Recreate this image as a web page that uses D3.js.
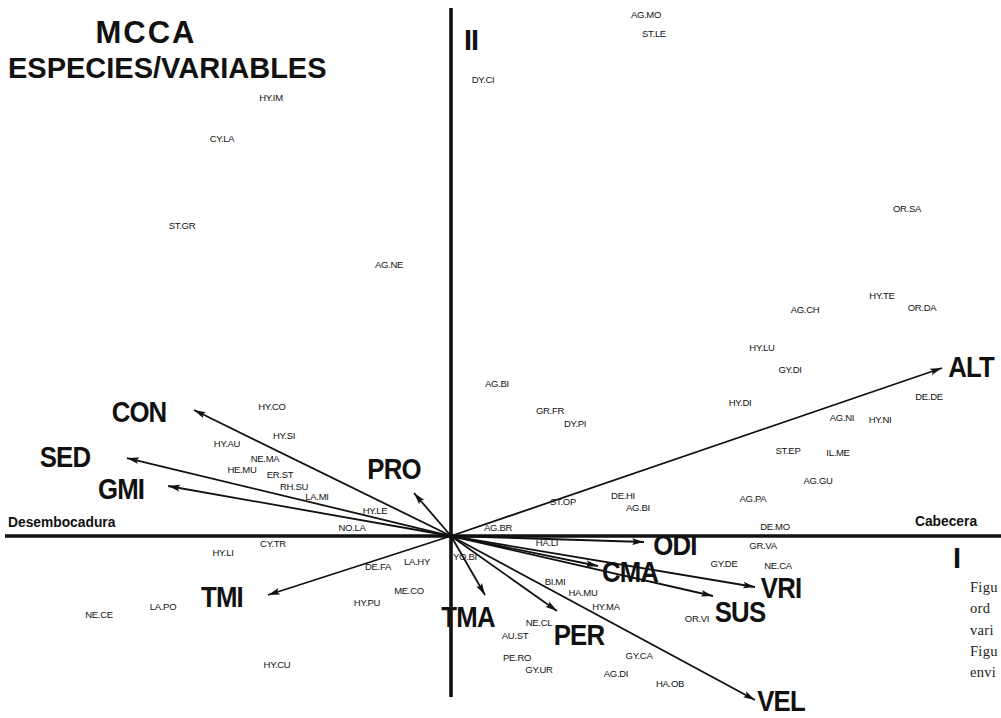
<!DOCTYPE html>
<html><head><meta charset="utf-8">
<script src="https://cdn.jsdelivr.net/npm/d3@7"></script>
<style>
html,body{margin:0;padding:0;background:#fff;overflow:hidden}
svg{display:block}
</style></head><body>
<svg id="c" width="1001" height="718"></svg>
<script>
// ---- data (ordination scores) ----
const speciesNames = ["HY.IM","CY.LA","ST.GR","AG.NE","AG.MO","ST.LE","DY.CI","OR.SA","HY.TE","OR.DA","AG.CH","HY.LU","GY.DI","DE.DE","AG.NI","HY.NI","HY.DI","AG.BI","GR.FR","DY.PI","ST.EP","IL.ME","AG.GU","AG.PA","ST.OP","DE.HI","AG.BI","AG.BR","DE.MO","GR.VA","HA.LI","YO.BI","GY.DE","NE.CA","BI.MI","HA.MU","HY.MA","NE.CL","AU.ST","PE.RO","GY.UR","AG.DI","GY.CA","HA.OB","OR.VI","HY.CO","HY.SI","HY.AU","NE.MA","HE.MU","ER.ST","RH.SU","LA.MI","HY.LE","NO.LA","CY.TR","HY.LI","DE.FA","LA.HY","ME.CO","HY.PU","LA.PO","NE.CE","HY.CU"];
const speciesX = [-1.80,-2.29,-2.69,-0.62,1.95,2.03,0.32,4.56,4.31,4.71,3.54,3.11,3.39,4.78,3.91,4.29,2.89,0.46,0.99,1.24,3.37,3.87,3.67,3.02,1.12,1.72,1.87,0.47,3.24,3.12,0.96,0.14,2.73,3.27,1.04,1.32,1.55,0.88,0.64,0.66,0.88,1.65,1.88,2.19,2.46,-1.79,-1.67,-2.24,-1.86,-2.09,-1.71,-1.57,-1.34,-0.76,-0.99,-1.78,-2.28,-0.73,-0.34,-0.42,-0.84,-2.88,-3.52,-1.74];
const speciesY = [4.38,3.97,3.10,2.71,5.21,5.02,4.56,3.27,2.40,2.28,2.26,1.88,1.66,1.39,1.18,1.16,1.33,1.52,1.25,1.12,0.85,0.83,0.55,0.37,0.34,0.40,0.28,0.08,0.09,-0.10,-0.07,-0.21,-0.28,-0.30,-0.46,-0.57,-0.71,-0.87,-1.00,-1.22,-1.34,-1.38,-1.20,-1.48,-0.83,1.29,1.00,0.92,0.77,0.66,0.61,0.49,0.39,0.25,0.08,-0.08,-0.17,-0.31,-0.26,-0.55,-0.67,-0.71,-0.79,-1.29];

const variableNames = ["ALT","CON","SED","GMI","PRO","TMI","TMA","PER","VEL","SUS","VRI","CMA","ODI"];
const variableX = [4.91,-2.57,-3.24,-2.83,-0.37,-1.83,0.34,1.06,3.04,2.62,3.04,1.47,1.93];
const variableY = [1.68,1.26,0.78,0.50,0.43,-0.59,-0.59,-0.75,-1.64,-0.60,-0.51,-0.30,-0.06];
const variableLabelX = [5.20,-3.12,-3.86,-3.30,-0.57,-2.29,0.17,1.28,3.30,2.89,3.30,1.79,2.24];
const variableLabelY = [1.70,1.25,0.80,0.48,0.68,-0.60,-0.80,-0.98,-1.64,-0.75,-0.51,-0.35,-0.08];

const axisEndLabels = ["Desembocadura","Cabecera"];
const axisNames = ["I","II"];
const titleLines = ["MCCA","ESPECIES/VARIABLES"];
const captionLines = ["Figu","ord","vari","Figu","envi"];
const axis1Extent = [-4.46, 5.52];
const axis2Extent = [-1.61, 5.28];

// ---- drawing ----
const W = 1001, H = 718;
const svg = d3.select("#c");
const x = d3.scaleLinear().domain([-4.51, 5.50]).range([0, W]);
const y = d3.scaleLinear().domain([-1.82, 5.36]).range([H, 0]);

svg.append("defs").append("marker")
  .attr("id","ah").attr("markerUnits","userSpaceOnUse")
  .attr("viewBox","0 0 12 8").attr("refX",12).attr("refY",4)
  .attr("markerWidth",12).attr("markerHeight",8).attr("orient","auto")
  .append("path").attr("d","M0,0.6 L12,4 L0,7.4 L2.5,4 Z").attr("fill","#111");

// axes
svg.append("line").attr("x1",x(axis1Extent[0])).attr("x2",x(axis1Extent[1]))
  .attr("y1",y(0)).attr("y2",y(0)).attr("stroke","#111").attr("stroke-width",3.6);
svg.append("line").attr("x1",x(0)).attr("x2",x(0))
  .attr("y1",y(axis2Extent[1])).attr("y2",y(axis2Extent[0])).attr("stroke","#111").attr("stroke-width",3.6);

// arrows
const vars = variableNames.map((n,i)=>({n, x:variableX[i], y:variableY[i], lx:variableLabelX[i], ly:variableLabelY[i]}));
svg.append("g").selectAll("line").data(vars).join("line")
  .attr("x1",x(0)).attr("y1",y(0))
  .attr("x2",d=>x(d.x)).attr("y2",d=>y(d.y))
  .attr("stroke","#111").attr("stroke-width",1.8)
  .attr("marker-end","url(#ah)");

// species labels
const sp = speciesNames.map((n,i)=>({n, x:speciesX[i], y:speciesY[i]}));
svg.append("g").selectAll("text").data(sp).join("text")
  .attr("x",d=>x(d.x)).attr("y",d=>y(d.y)).attr("dy","0.35em")
  .attr("text-anchor","middle")
  .style("font-family","'Liberation Sans', Arial, sans-serif")
  .style("font-size","9.5px").style("letter-spacing","-0.3px")
  .attr("fill","#111").text(d=>d.n);

// variable labels
svg.append("g").selectAll("text").data(vars).join("text")
  .attr("transform",d=>`translate(${x(d.lx)},${y(d.ly)}) scale(0.86,1)`)
  .attr("dy","0.36em").attr("text-anchor","middle")
  .style("font-family","'Liberation Sans', Arial, sans-serif")
  .style("font-weight","bold").style("font-size","30px").style("letter-spacing","-1px")
  .attr("fill","#111").text(d=>d.n);

// axis end labels
const smallBold = s => s.style("font-family","'Liberation Sans', Arial, sans-serif").style("font-weight","bold").attr("fill","#111");
svg.append("text").attr("x",8).attr("y",y(0)-9).text(axisEndLabels[0]).style("font-size","13.8px").call(smallBold);
svg.append("text").attr("x",946).attr("y",y(0)-10).attr("text-anchor","middle").text(axisEndLabels[1]).style("font-size","13.8px").call(smallBold);

// axis names
svg.append("text").attr("x",957).attr("y",568).attr("text-anchor","middle").text(axisNames[0])
  .style("font-size","29px").call(smallBold);
svg.append("text").attr("x",471).attr("y",50).attr("text-anchor","middle").text(axisNames[1])
  .style("font-size","29px").style("letter-spacing","-1px").call(smallBold);

// title
svg.append("text").attr("x",146).attr("y",43).attr("text-anchor","middle").text(titleLines[0])
  .style("font-size","31px").style("letter-spacing","2px").call(smallBold);
svg.append("text").attr("x",8).attr("y",78).text(titleLines[1])
  .style("font-size","29px").call(smallBold);

// caption fragment on the right edge
svg.append("g").selectAll("text").data(captionLines).join("text")
  .attr("x",970).attr("y",(d,i)=>592 + i*21.3)
  .style("font-family","'Liberation Serif', 'Times New Roman', serif")
  .style("font-size","14.5px").style("letter-spacing","0.3px")
  .attr("fill","#222").text(d=>d);
</script>
</body></html>
